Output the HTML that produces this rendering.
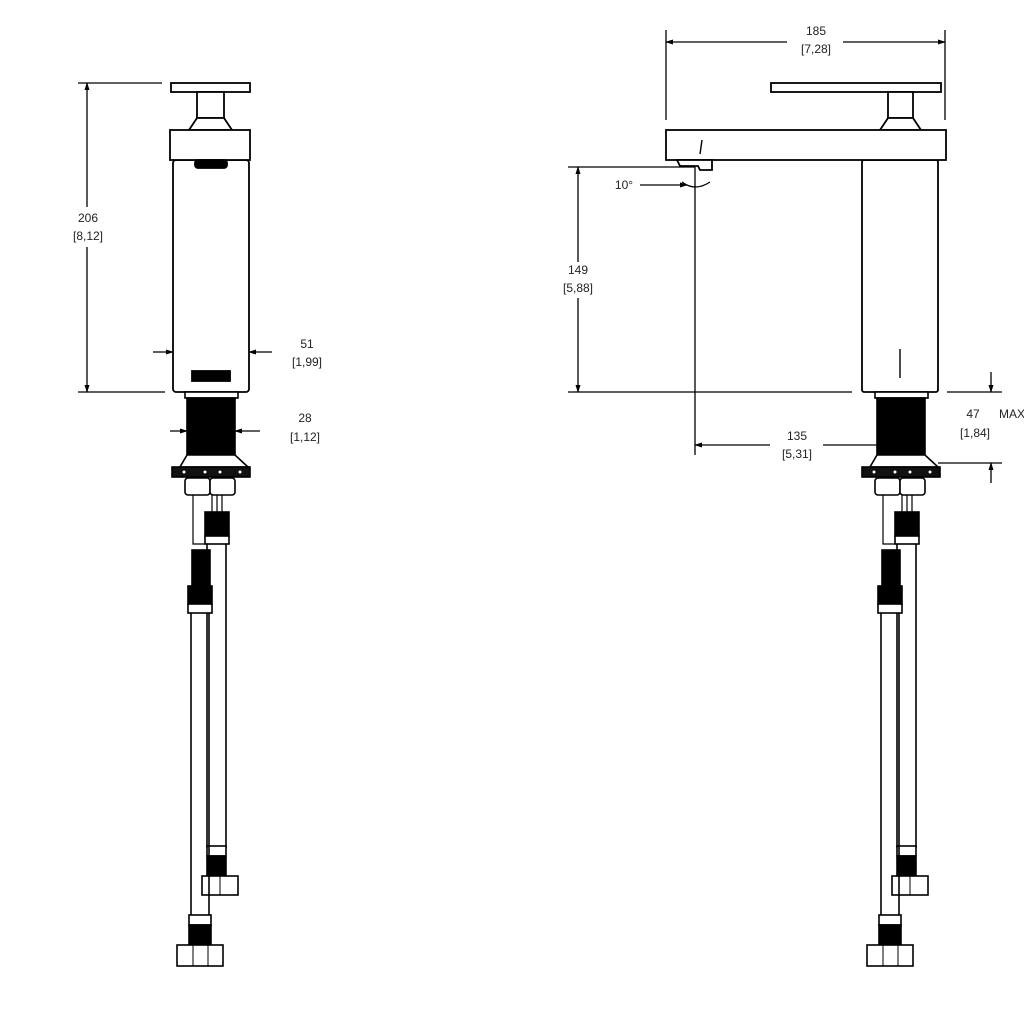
<!DOCTYPE html>
<html><head><meta charset="utf-8"><style>
html,body{margin:0;padding:0;background:#fff;}
svg{display:block;}
text{font-family:"Liberation Sans",sans-serif;font-size:12px;fill:#222;text-anchor:middle;}
</style></head><body>
<svg width="1024" height="1028" viewBox="0 0 1024 1028" xmlns="http://www.w3.org/2000/svg">
<defs>
<marker id="a" markerWidth="8" markerHeight="8" refX="7" refY="4" orient="auto-start-reverse" markerUnits="userSpaceOnUse">
<path d="M0,1.5 L8,4 L0,6.5 Z" fill="#000"/></marker>
<g id="bot" stroke="#000" stroke-width="1.6" fill="#fff">
<rect x="185" y="392" width="53" height="6" fill="#fff"/>
<rect x="187" y="398" width="48" height="57" fill="#000"/>
<polygon points="187,455 235,455 248,467 180,467"/>
<rect x="172" y="467" width="78" height="10" fill="#111"/>
<circle cx="184" cy="472" r="1.5" fill="#fff" stroke="none"/>
<circle cx="205" cy="472" r="1.5" fill="#fff" stroke="none"/>
<circle cx="220" cy="472" r="1.5" fill="#fff" stroke="none"/>
<circle cx="240" cy="472" r="1.5" fill="#fff" stroke="none"/>
<rect x="185" y="478" width="25" height="17" rx="3"/>
<rect x="210" y="478" width="25" height="17" rx="3"/>
<!-- right hose -->
<line x1="212" y1="495" x2="212" y2="512" stroke-width="1.2"/>
<line x1="217" y1="495" x2="217" y2="512" stroke-width="1.2"/>
<line x1="222" y1="495" x2="222" y2="512" stroke-width="1.2"/>
<rect x="205" y="512" width="24" height="24" fill="#000"/>
<rect x="205" y="536" width="24" height="8"/>
<line x1="207" y1="544" x2="207" y2="848"/>
<line x1="226" y1="544" x2="226" y2="848"/>
<rect x="207" y="846" width="19" height="10"/>
<rect x="207" y="856" width="19" height="20" fill="#000"/>
<rect x="202" y="876" width="36" height="19"/>
<line x1="220" y1="876" x2="220" y2="895" stroke-width="1"/>
<!-- left hose -->
<polyline points="193,495 193,544 205,544" fill="none" stroke-width="1.2"/>
<rect x="192" y="550" width="18" height="36" fill="#000"/>
<rect x="188" y="586" width="24" height="18" fill="#000"/>
<rect x="188" y="604" width="24" height="9"/>
<line x1="191" y1="613" x2="191" y2="915"/>
<line x1="209" y1="613" x2="209" y2="915"/>
<rect x="189" y="915" width="22" height="10"/>
<rect x="189" y="925" width="22" height="20" fill="#000"/>
<rect x="177" y="945" width="46" height="21"/>
<line x1="193" y1="945" x2="193" y2="966" stroke-width="1"/>
<line x1="208" y1="945" x2="208" y2="966" stroke-width="1"/>
</g>
</defs>

<!-- LEFT VIEW -->
<g stroke="#000" stroke-width="1.8" fill="#fff">
<rect x="171" y="83" width="79" height="9"/>
<rect x="197" y="92" width="27" height="26"/>
<polygon points="197,118 224,118 232,130 189,130"/>
<rect x="173" y="160" width="76" height="232" rx="3"/>
<rect x="170" y="130" width="80" height="30"/>
<rect x="195" y="160" width="32" height="8" rx="3" fill="#000"/>
<rect x="192" y="371" width="38" height="10" fill="#000"/>
</g>
<use href="#bot"/>
<!-- left dims -->
<g stroke="#000" stroke-width="1.3" fill="none">
<line x1="78" y1="83" x2="162" y2="83"/>
<line x1="78" y1="392" x2="165" y2="392"/>
<line x1="87" y1="83" x2="87" y2="207" marker-start="url(#a)"/>
<line x1="87" y1="247" x2="87" y2="392" marker-end="url(#a)"/>
<line x1="153" y1="352" x2="173" y2="352" marker-end="url(#a)"/>
<line x1="272" y1="352" x2="249" y2="352" marker-end="url(#a)"/>
<line x1="170" y1="431" x2="187" y2="431" marker-end="url(#a)"/>
<line x1="260" y1="431" x2="235" y2="431" marker-end="url(#a)"/>
</g>
<text x="88" y="222">206</text><text x="88" y="240">[8,12]</text>
<text x="307" y="348">51</text><text x="307" y="366">[1,99]</text>
<text x="305" y="422">28</text><text x="305" y="441">[1,12]</text>

<!-- RIGHT VIEW -->
<g stroke="#000" stroke-width="1.8" fill="#fff">
<rect x="771" y="83" width="170" height="9"/>
<rect x="888" y="92" width="25" height="26"/>
<polygon points="888,118 913,118 921,130 880,130"/>
<rect x="862" y="160" width="76" height="232" rx="2"/>
<rect x="666" y="130" width="280" height="30"/>
<polygon points="677,160 712,160 712,170 700,170 698,166 680,166" fill="#fff"/>
<line x1="702" y1="140" x2="700" y2="154" stroke-width="1.4"/>
<line x1="900" y1="349" x2="900" y2="378" stroke-width="1.4"/>
</g>
<use href="#bot" transform="translate(690,0)"/>
<!-- right dims -->
<g stroke="#000" stroke-width="1.3" fill="none">
<line x1="666" y1="30" x2="666" y2="120"/>
<line x1="945" y1="30" x2="945" y2="120"/>
<line x1="666" y1="42" x2="787" y2="42" marker-start="url(#a)"/>
<line x1="843" y1="42" x2="945" y2="42" marker-end="url(#a)"/>
<line x1="568" y1="167" x2="695" y2="167"/>
<line x1="568" y1="392" x2="852" y2="392"/>
<line x1="578" y1="167" x2="578" y2="262" marker-start="url(#a)"/>
<line x1="578" y1="298" x2="578" y2="392" marker-end="url(#a)"/>
<line x1="695" y1="167" x2="695" y2="455"/>
<line x1="695" y1="445" x2="770" y2="445" marker-start="url(#a)"/>
<line x1="823" y1="445" x2="877" y2="445"/>
<line x1="640" y1="185" x2="687" y2="185" marker-end="url(#a)"/>
<path d="M682,182 Q695,192 710,182" />
<line x1="947" y1="392" x2="1002" y2="392"/>
<line x1="938" y1="463" x2="1002" y2="463"/>
<line x1="991" y1="372" x2="991" y2="392" marker-end="url(#a)"/>
<line x1="991" y1="483" x2="991" y2="463" marker-end="url(#a)"/>
</g>
<text x="816" y="35">185</text><text x="816" y="53">[7,28]</text>
<text x="578" y="274">149</text><text x="578" y="292">[5,88]</text>
<text x="797" y="440">135</text><text x="797" y="458">[5,31]</text>
<text x="624" y="189">10°</text>
<text x="973" y="418">47</text><text x="1012" y="418">MAX</text>
<text x="975" y="437">[1,84]</text>
</svg>
</body></html>
